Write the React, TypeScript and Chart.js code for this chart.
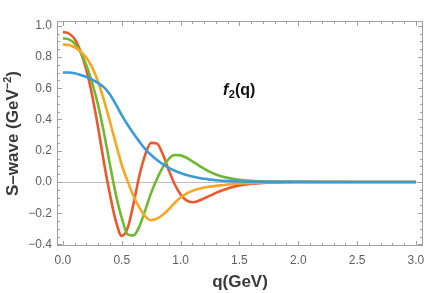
import React, { useEffect, useRef } from "react";
import { Chart, registerables } from "chart.js";

Chart.register(...registerables);

const q = [0, 0.05, 0.1, 0.15, 0.2, 0.25, 0.3, 0.35, 0.4, 0.45, 0.5, 0.55, 0.6, 0.65, 0.7, 0.75, 0.8, 0.85, 0.9, 0.95, 1.0, 1.05, 1.1, 1.15, 1.2, 1.25, 1.3, 1.4, 1.5, 1.6, 1.7, 1.8, 1.9, 2.0, 2.5, 3.0];

const blue = [0.70, 0.70, 0.695, 0.685, 0.672, 0.655, 0.632, 0.605, 0.56, 0.497, 0.428, 0.366, 0.31, 0.258, 0.21, 0.172, 0.14, 0.113, 0.09, 0.072, 0.057, 0.045, 0.035, 0.027, 0.02, 0.015, 0.011, 0.006, 0.003, 0.0015, 0.0008, 0.0004, 0.0002, 0.0001, 0, 0];

const red = [0.96, 0.95, 0.915, 0.835, 0.715, 0.55, 0.345, 0.12, -0.08, -0.25, -0.345, -0.295, -0.14, 0.04, 0.175, 0.25, 0.245, 0.175, 0.075, -0.015, -0.08, -0.118, -0.13, -0.122, -0.105, -0.088, -0.07, -0.042, -0.022, -0.012, -0.006, -0.003, -0.0015, -0.0008, 0, 0];

const green = [0.92, 0.912, 0.885, 0.83, 0.745, 0.63, 0.49, 0.31, 0.11, -0.08, -0.23, -0.335, -0.342, -0.285, -0.18, -0.07, 0.02, 0.095, 0.148, 0.172, 0.17, 0.155, 0.132, 0.108, 0.085, 0.064, 0.048, 0.026, 0.014, 0.0075, 0.004, 0.002, 0.001, 0.0005, 0, 0];

const orange = [0.88, 0.876, 0.862, 0.835, 0.795, 0.73, 0.64, 0.52, 0.385, 0.245, 0.11, 0.005, -0.09, -0.165, -0.22, -0.245, -0.235, -0.21, -0.175, -0.135, -0.1, -0.075, -0.057, -0.045, -0.036, -0.03, -0.025, -0.016, -0.01, -0.006, -0.0035, -0.002, -0.001, -0.0005, 0, 0];

const xTicks = [0, 0.5, 1.0, 1.5, 2.0, 2.5, 3.0];
const yTicks = [-0.4, -0.2, 0, 0.2, 0.4, 0.6, 0.8, 1.0];

const FONT = "'Liberation Sans', Arial, sans-serif";

const fmt = (v: number) => {
  const s = Math.abs(v).toFixed(1);
  return v < -1e-9 ? "\u2212" + s : s;
};

const framePlugin = {
  id: "framePlugin",
  beforeDatasetsDraw(chart: any) {
    const { ctx, chartArea: a, scales } = chart;
    const y0 = Math.round(scales.y.getPixelForValue(0)) + 0.5;
    ctx.save();
    ctx.strokeStyle = "#bdbdbd";
    ctx.lineWidth = 1;
    ctx.beginPath();
    ctx.moveTo(a.left, y0);
    ctx.lineTo(a.right, y0);
    ctx.stroke();
    ctx.restore();
  },
  afterDraw(chart: any) {
    const { ctx, chartArea: a, scales } = chart;
    const xs = scales.x;
    const ys = scales.y;
    ctx.save();
    ctx.strokeStyle = "#a0a0a0";
    ctx.lineWidth = 1;
    const L = Math.round(a.left) + 0.5;
    const R = Math.round(a.right) - 0.5;
    const T = Math.round(a.top) + 0.5;
    const B = Math.round(a.bottom) - 0.5;
    ctx.strokeRect(L, T, R - L, B - T);
    ctx.beginPath();
    for (let i = 0; i <= 30; i++) {
      const v = i / 10;
      const major = i % 5 === 0;
      const len = major ? 4.5 : 2.5;
      const px = Math.round(xs.getPixelForValue(v)) + 0.5;
      ctx.moveTo(px, B);
      ctx.lineTo(px, B - len);
      ctx.moveTo(px, T);
      ctx.lineTo(px, T + len);
    }
    for (let i = -8; i <= 20; i++) {
      const v = i / 20;
      const major = i % 4 === 0;
      const len = major ? 4.5 : 2.5;
      const py = Math.round(ys.getPixelForValue(v)) + 0.5;
      ctx.moveTo(L, py);
      ctx.lineTo(L + len, py);
      ctx.moveTo(R, py);
      ctx.lineTo(R - len, py);
    }
    ctx.stroke();

    // axis titles
    ctx.fillStyle = "#3a3a3a";
    ctx.textBaseline = "alphabetic";
    ctx.font = `bold 17px ${FONT}`;
    ctx.textAlign = "center";
    ctx.fillText("q(GeV)", (a.left + a.right) / 2, 287);

    // y title rotated
    const main = "S\u2013wave (GeV";
    const sup = "\u22122";
    const end = ")";
    ctx.font = `bold 17px ${FONT}`;
    const w1 = ctx.measureText(main).width;
    const w3 = ctx.measureText(end).width;
    ctx.font = `bold 11px ${FONT}`;
    const w2 = ctx.measureText(sup).width;
    const total = w1 + w2 + w3;
    ctx.translate(18, (a.top + a.bottom) / 2);
    ctx.rotate(-Math.PI / 2);
    ctx.textAlign = "left";
    let x = -total / 2;
    ctx.font = `bold 17px ${FONT}`;
    ctx.fillText(main, x, 0);
    x += w1;
    ctx.font = `bold 11px ${FONT}`;
    ctx.fillText(sup, x, -7);
    x += w2;
    ctx.font = `bold 17px ${FONT}`;
    ctx.fillText(end, x, 0);
    ctx.setTransform(1, 0, 0, 1, 0, 0);

    // annotation f2(q)
    ctx.fillStyle = "#111";
    ctx.textAlign = "left";
    let ax = 223;
    const ay = 95;
    ctx.font = `italic bold 16px ${FONT}`;
    ctx.fillText("f", ax, ay);
    ax += ctx.measureText("f").width + 0.5;
    ctx.font = `bold 11px ${FONT}`;
    ctx.fillText("2", ax, ay + 3);
    ax += ctx.measureText("2").width;
    ctx.font = `bold 16px ${FONT}`;
    ctx.fillText("(q)", ax, ay);
    ctx.restore();
  },
};

export default function App() {
  const ref = useRef<HTMLCanvasElement | null>(null);
  useEffect(() => {
    document.body.style.margin = "0";
    const canvas = ref.current!;
    const mk = (arr: number[]) => q.map((x, i) => ({ x, y: arr[i] }));
    const ds = (label: string, arr: number[], color: string) => ({
      label,
      data: mk(arr),
      borderColor: color,
      backgroundColor: color,
      borderWidth: 2.6,
      pointRadius: 0,
      fill: false,
      cubicInterpolationMode: "monotone" as const,
    });
    const chart = new Chart(canvas, {
      type: "line",
      data: {
        datasets: [
          ds("blue", blue, "rgb(58,156,215)"),
          ds("orange", orange, "rgb(247,167,35)"),
          ds("green", green, "rgb(112,183,50)"),
          ds("red", red, "rgb(236,87,44)"),
        ],
      },
      options: {
        responsive: false,
        animation: false,
        events: [],
        layout: { padding: { top: 21, right: 22, left: 0, bottom: 0 } },
        plugins: { legend: { display: false }, tooltip: { enabled: false } },
        scales: {
          x: {
            type: "linear",
            min: -0.05,
            max: 3.06,
            grid: { display: false, drawTicks: false },
            border: { display: false },
            afterBuildTicks: (s: any) => {
              s.ticks = xTicks.map((v) => ({ value: v }));
            },
            afterFit: (s: any) => {
              s.height = 47;
            },
            ticks: {
              autoSkip: false,
              maxRotation: 0,
              padding: 7,
              color: "#606060",
              font: { size: 12, family: FONT },
              callback: (v: any) => fmt(Number(v)),
            },
          },
          y: {
            type: "linear",
            min: -0.41,
            max: 1.03,
            grid: { display: false, drawTicks: false },
            border: { display: false },
            afterBuildTicks: (s: any) => {
              s.ticks = yTicks.map((v) => ({ value: v }));
            },
            afterFit: (s: any) => {
              s.width = 57;
            },
            ticks: {
              autoSkip: false,
              padding: 5,
              color: "#606060",
              font: { size: 12, family: FONT },
              callback: (v: any) => fmt(Number(v)),
            },
          },
        },
      },
      plugins: [framePlugin],
    });
    return () => chart.destroy();
  }, []);
  return <canvas ref={ref} width={445} height={293} style={{ display: "block" }} />;
}
